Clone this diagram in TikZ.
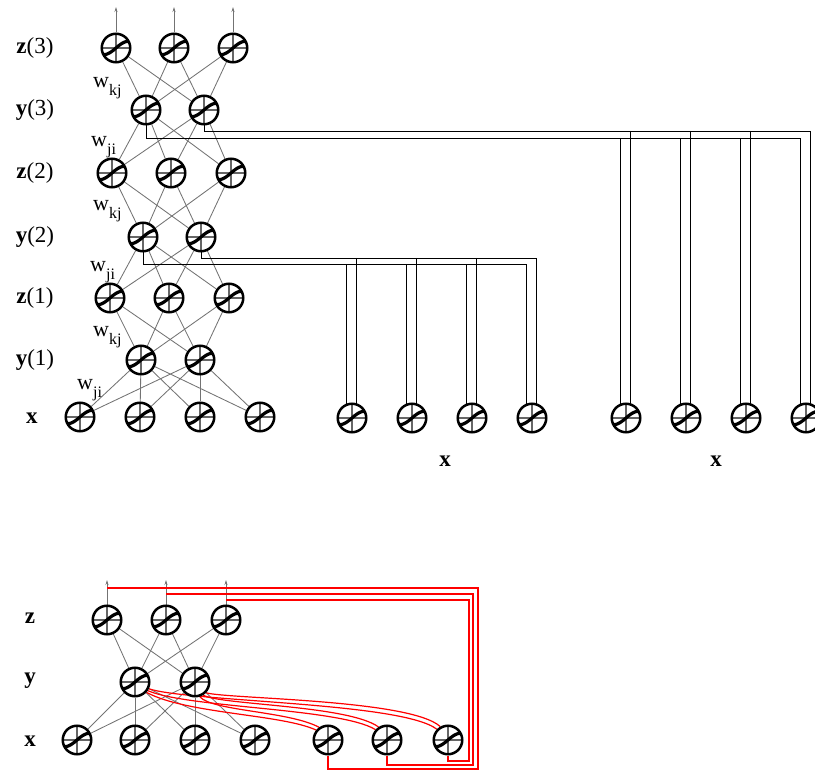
\documentclass[tikz,border=0pt]{standalone}
\usepackage{fontspec}
\setmainfont{Liberation Serif}
\usetikzlibrary{arrows.meta,backgrounds,calc}
\newcommand\wsub[1]{w\raisebox{-8pt}{\fontsize{16}{16}\selectfont #1}}
\begin{document}
\begin{tikzpicture}[x=1pt,y=-1pt,
  neuron/.style={circle, draw=black, line width=2.5pt, fill=white, minimum size=28.5pt, inner sep=0pt,
    path picture={
      \draw[black!60, line width=1.2pt] (path picture bounding box.north) -- (path picture bounding box.south)
        (path picture bounding box.west) -- (path picture bounding box.east);
      \draw[black, line width=3.2pt] ([shift={(-13pt,-6.8pt)}]path picture bounding box.center)
        .. controls ([shift={(-3pt,-7pt)}]path picture bounding box.center)
        and ([shift={(3pt,7pt)}]path picture bounding box.center)
        .. ([shift={(13pt,6.8pt)}]path picture bounding box.center);
    }},
  conn/.style={draw=black!55, line width=0.85pt},
  blk/.style={draw=black, line width=0.9pt},
  outarr/.style={draw=black!55, line width=0.9pt, -{Stealth[length=5pt,width=3pt]}},
  redl/.style={draw=red, line width=1.2pt},
  redc/.style={draw=red, line width=1.2pt},
  lbl/.style={font=\fontsize{23}{25}\selectfont, inner sep=0pt},
  wlbl/.style={font=\fontsize{22}{24}\selectfont, inner sep=0pt, anchor=base west}
]
\useasboundingbox (0,0) rectangle (815,770);

% ---------- top network ----------
\node[neuron] (z31) at (116,48) {};
\node[neuron] (z32) at (174,48) {};
\node[neuron] (z33) at (233,48) {};
\node[neuron] (y31) at (146,110) {};
\node[neuron] (y32) at (204,110) {};
\node[neuron] (z21) at (112,173) {};
\node[neuron] (z22) at (171,173) {};
\node[neuron] (z23) at (231,173) {};
\node[neuron] (y21) at (143,237) {};
\node[neuron] (y22) at (201,237) {};
\node[neuron] (z11) at (110,298) {};
\node[neuron] (z12) at (169,298) {};
\node[neuron] (z13) at (229,298) {};
\node[neuron] (y11) at (141,360) {};
\node[neuron] (y12) at (200,360) {};
\node[neuron] (tx1) at (80,417) {};
\node[neuron] (tx2) at (140,417) {};
\node[neuron] (tx3) at (200,417) {};
\node[neuron] (tx4) at (260,417) {};
\node[neuron] (xm1) at (352,418) {};
\node[neuron] (xm2) at (412,418) {};
\node[neuron] (xm3) at (472,418) {};
\node[neuron] (xm4) at (532,418) {};
\node[neuron] (xr1) at (626,418) {};
\node[neuron] (xr2) at (686,418) {};
\node[neuron] (xr3) at (746,418) {};
\node[neuron] (xr4) at (806,418) {};

\coordinate (a1) at (116,7);
\coordinate (a2) at (174,7);
\coordinate (a3) at (233,7);

% labels top
\node[lbl,anchor=base] (lz3) at (35,54) {\textbf{z}(3)};
\node[lbl,anchor=base] (ly3) at (35,116) {\textbf{y}(3)};
\node[lbl,anchor=base] (lz2) at (35,179) {\textbf{z}(2)};
\node[lbl,anchor=base] (ly2) at (35,243) {\textbf{y}(2)};
\node[lbl,anchor=base] (lz1) at (35,304) {\textbf{z}(1)};
\node[lbl,anchor=base] (ly1) at (35,366) {\textbf{y}(1)};
\node[lbl,anchor=base] (lx) at (32,424) {\textbf{x}};
\node[lbl,anchor=base] (lxm) at (445,467) {\textbf{x}};
\node[lbl,anchor=base] (lxr) at (716,467) {\textbf{x}};
\node[wlbl] (w1) at (93,88) {\wsub{kj}};
\node[wlbl] (w2) at (91,147) {\wsub{ji}};
\node[wlbl] (w3) at (93,211) {\wsub{kj}};
\node[wlbl] (w4) at (90,272) {\wsub{ji}};
\node[wlbl] (w5) at (93,337) {\wsub{kj}};
\node[wlbl] (w6) at (77,390) {\wsub{ji}};

% ---------- bottom network ----------
\node[neuron] (bz1) at (107,620) {};
\node[neuron] (bz2) at (166,620) {};
\node[neuron] (bz3) at (226,620) {};
\node[neuron] (by1) at (135,682) {};
\node[neuron] (by2) at (195,682) {};
\node[neuron] (bx1) at (77,740) {};
\node[neuron] (bx2) at (135,740) {};
\node[neuron] (bx3) at (195,740) {};
\node[neuron] (bx4) at (255,740) {};
\node[neuron] (bx5) at (328,740) {};
\node[neuron] (bx6) at (387,740) {};
\node[neuron] (bx7) at (448,740) {};

\coordinate (b1) at (107,580);
\coordinate (b2) at (166,580);
\coordinate (b3) at (226,580);

\node[lbl,anchor=base] (blz) at (30,623) {\textbf{z}};
\node[lbl,anchor=base] (bly) at (30,683) {\textbf{y}};
\node[lbl,anchor=base] (blx) at (30,746) {\textbf{x}};

\coordinate (rl1) at (478,769);
\coordinate (rt1) at (107,588);
\coordinate (rl2) at (473,765);
\coordinate (rt2) at (166,594);
\coordinate (rl3) at (469,761);
\coordinate (rt3) at (226,600);

\coordinate (t1) at (800,138);
\coordinate (t2) at (810,131);
\coordinate (m1) at (526,264);
\coordinate (m2) at (536,258);

\begin{scope}[on background layer]
  % top network gray connections
  \foreach \k in {1,2,3} {
    \foreach \j in {1,2} {
      \draw[conn] (z3\k) -- (y3\j);
      \draw[conn] (y3\j) -- (z2\k);
      \draw[conn] (z2\k) -- (y2\j);
      \draw[conn] (y2\j) -- (z1\k);
      \draw[conn] (z1\k) -- (y1\j);
    }
  }
  \foreach \i in {1,2,3,4} {
    \foreach \j in {1,2} {
      \draw[conn] (y1\j) -- (tx\i);
    }
  }
  \draw[outarr] (z31.north) -- (a1);
  \draw[outarr] (z32.north) -- (a2);
  \draw[outarr] (z33.north) -- (a3);

  % copy lines from y(3)
  \draw[blk] (y31.south) |- (t1) -- (t1 |- xr4.center);
  \draw[blk] (y32.south) |- (t2) -- (t2 |- xr4.center);
  \foreach \q in {1,2,3} {
    \draw[blk] let \p1=(xr\q.center), \p2=(t1), \p3=(t2) in
      (\x1-6pt,\y2) -- (\x1-6pt,\y1) (\x1+4pt,\y3) -- (\x1+4pt,\y1);
  }
  % copy lines from y(2)
  \draw[blk] (y21.south) |- (m1) -- (m1 |- xm4.center);
  \draw[blk] (y22.south) |- (m2) -- (m2 |- xm4.center);
  \foreach \q in {1,2,3} {
    \draw[blk] let \p1=(xm\q.center), \p2=(m1), \p3=(m2) in
      (\x1-6pt,\y2) -- (\x1-6pt,\y1) (\x1+4pt,\y3) -- (\x1+4pt,\y1);
  }

  % bottom network gray connections
  \foreach \k in {1,2,3} {
    \foreach \j in {1,2} {
      \draw[conn] (bz\k) -- (by\j);
    }
  }
  \foreach \i in {1,2,3,4} {
    \foreach \j in {1,2} {
      \draw[conn] (by\j) -- (bx\i);
    }
  }
  \draw[outarr] (bz1.north) -- (b1);
  \draw[outarr] (bz2.north) -- (b2);
  \draw[outarr] (bz3.north) -- (b3);

  % red feedback loops
  \draw[redl] (bx5.south) |- (rl1) |- (rt1);
  \draw[redl] (bx6.south) |- (rl2) |- (rt2);
  \draw[redl] (bx7.south) |- (rl3) |- (rt3);

  % red recurrent connections
  \draw[redc] (by1.-42) .. controls +(40,21.6) and +(-35,-16) .. (bx5.140);
  \draw[redc] (by1.-34) .. controls +(40,17.3) and +(-35,-21.6) .. (bx6.138);
  \draw[redc] (by1.-26) .. controls +(40,13.2) and +(-35,-27.2) .. (bx7.136);
  \draw[redc] (by2.-72) .. controls +(12,14.3) and +(-30,-16.2) .. (bx5.125);
  \draw[redc] (by2.-58) .. controls +(16,9.8) and +(-30,-21.9) .. (bx6.123);
  \draw[redc] (by2.-44) .. controls +(20,6.2) and +(-30,-27.5) .. (bx7.120);
\end{scope}
\end{tikzpicture}
\end{document}
